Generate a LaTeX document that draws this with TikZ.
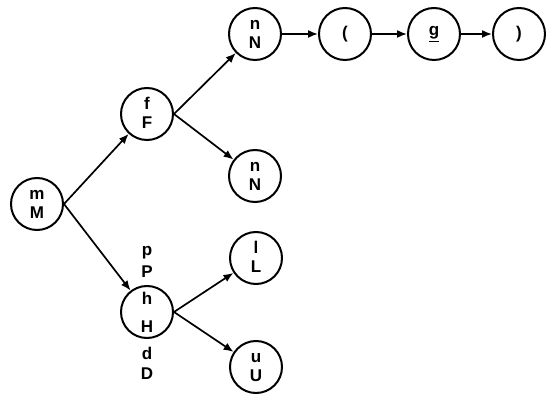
\documentclass[tikz,border=0pt]{standalone}
\usepackage{fontspec}
\setmainfont{Liberation Sans}
\usetikzlibrary{arrows.meta}

\tikzset{
  circ/.style={circle, draw, line width=2pt, minimum size=52pt, inner sep=0pt},
  glyph/.style={font=\bfseries\fontsize{17}{20}\selectfont, inner sep=0pt},
  lowtxt/.style={glyph, text height=9pt, text depth=0pt},
  captxt/.style={glyph, text height=12pt, text depth=0pt},
  arr/.style={line width=1.7pt, -{Latex[length=10pt,width=8pt]}},
}

% circle with a lower-case letter above its capital
\newcommand\pairnode[5]{%
  \node[circ] (#1) at (#2,#3) {};
  \node[lowtxt] (#1-lo) at (#2,#3-9) {#4};
  \node[captxt] (#1-up) at (#2,#3+9) {#5};
}

\begin{document}
\begin{tikzpicture}[x=1pt, y=-1pt]
  \useasboundingbox (0,0) rectangle (547,395);

  \pairnode{m}{37}{204}{m}{M}
  \pairnode{f}{147}{114}{f}{F}
  \pairnode{n1}{255}{34}{n}{N}
  \pairnode{n2}{255}{176}{n}{N}
  \pairnode{l}{256}{258}{l}{L}
  \pairnode{u}{256}{367}{u}{U}

  % circle with the letters stacked through it
  \node[circ] (h) at (147,312) {};
  \node[glyph, anchor=base] (h-p)  at (147,256) {p};
  \node[glyph, anchor=base] (h-PP) at (147,278) {P};
  \node[glyph, anchor=base] (h-h)  at (147,305) {h};
  \node[glyph, anchor=base] (h-HH) at (147,333) {H};
  \node[glyph, anchor=base] (h-d)  at (147,360) {d};
  \node[glyph, anchor=base] (h-DD) at (147,380) {D};

  % the row of single-sign circles
  \node[circ, glyph] (lp) at (345,34) {(};
  \node[circ, glyph] (g)  at (434,34) {\underline{g}};
  \node[circ, glyph] (rp) at (519,34) {)};

  % connectors
  \draw[arr] (m.east) -- (f);
  \draw[arr] (m.east) -- (h);
  \draw[arr] (f.east) -- (n1);
  \draw[arr] (f.east) -- (n2);
  \draw[arr] (h.east) -- (l);
  \draw[arr] (h.east) -- (u);
  \draw[arr] (n1) -- (lp);
  \draw[arr] (lp) -- (g);
  \draw[arr] (g) -- (rp);
\end{tikzpicture}
\end{document}
